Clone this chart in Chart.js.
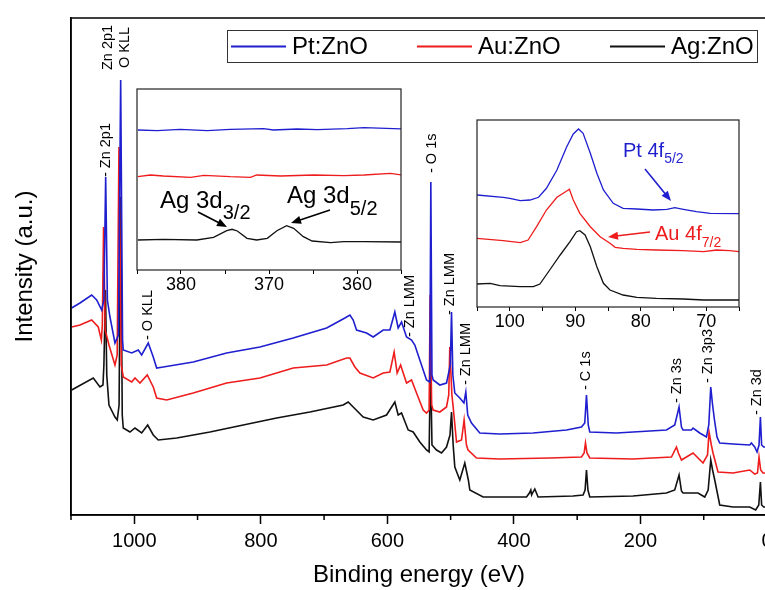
<!DOCTYPE html>
<html>
<head>
<meta charset="utf-8">
<script src="https://cdn.jsdelivr.net/npm/chart.js@4.4.1/dist/chart.umd.min.js"></script>
<style>
  html, body { margin: 0; padding: 0; background: #fff; overflow: hidden; }
  #wrap { position: relative; width: 765px; height: 590px; overflow: hidden; }
  #main { position: absolute; left: 0; top: 0; }
  #inset1 { position: absolute; left: 117px; top: 80px; }
  #inset2 { position: absolute; left: 457px; top: 110px; }
</style>
</head>
<body>
<div id="wrap">
  <canvas id="main" width="790" height="590"></canvas>
  <canvas id="inset1" width="305" height="220"></canvas>
  <canvas id="inset2" width="305" height="225"></canvas>
</div>
<script>
// ------- Data (survey spectra, binding energy in eV / intensity in a.u.) -------
const seriesNames = ['Pt:ZnO', 'Au:ZnO', 'Ag:ZnO'];
const seriesColors = ['#1f1fd0', '#ee1c1c', '#111111'];

const ptEnergy = [1099,1085.8,1067.3,1059.4,1051.5,1048,1045.2,1042.5,1038.4,1030.5,1025,1021.5,1018.5,1017.4,1004.1,993.7,988.3,977.9,970,964.6,954.2,906.8,854,801.4,748.8,696,667.1,659.2,654,648.7,632.9,622.4,606.6,596,588.2,582.9,577.6,569.7,561.8,556.6,548.7,538.1,532.9,531.3,529.5,527.6,517.1,506.5,500.5,498.6,496.5,493.4,485.5,479,476,473,467,453.9,422.3,369.7,316.9,293.2,288,285.3,282.5,280.1,237.9,158.9,145.8,139,135.2,132.7,119.4,116.9,106.3,95.7,92,88.9,86,83,79,74.7,53.7,27.3,24.7,19.4,15.8,12.6,10.4,8.5,5.2,0];
const ptCounts = [207,212,220,215,205,215,338,215,198,172,180,435,175,165,162,165,160,172,158,147,148,153,162,168,177,187,197,200,195,185,182,178,185,185,203,187,193,178,175,170,155,135,133,333,140,135,130,132,150,203,140,122,117,112,123,100,92,82,81,82,85,88,92,120,90,83,82,85,90,108,88,85,85,87,82,78,90,128,110,95,78,72,71,70,72,68,63,70,98,70,68,68];

const auEnergy = [1099,1085.8,1067.3,1056.9,1052,1050.5,1048.5,1046,1040,1030.5,1027,1024.2,1020.5,1017.4,1004.1,998.9,991,979.5,970,964.6,948.8,906.8,854,801.4,748.8,696,664.5,659.2,651.3,643.4,622.4,606.6,596,589.3,584.5,579.1,569.7,561.8,553.9,543.4,538.1,534,532.4,530,527.6,517.1,506.5,503,501.3,498,496,490.7,482.8,478.7,475,472.4,459.1,422.3,343.3,293.2,289,286.9,284.5,280.1,211.7,151,143.1,140,135.2,116.9,101.1,94,91.6,88,85.3,77.4,53.7,27.3,19.4,15,12.6,10,6.3,0];
const auCounts = [188,190,195,188,175,190,288,185,170,150,160,368,150,138,133,137,132,140,128,117,115,122,132,137,147,150,157,157,148,142,137,142,143,163,142,150,132,135,122,105,102,105,220,110,105,103,108,120,168,120,108,73,75,95,70,65,57,56,57,58,62,72,62,57,56,58,68,62,55,62,52,60,83,70,62,43,42,45,41,42,58,45,42,42];

const agEnergy = [1099,1064.8,1054.2,1049.5,1048,1045.5,1043.5,1040,1030.5,1026.9,1024,1021.5,1019,1017.4,1006.8,998.9,988.3,978.8,970,962.1,933,880.4,827.8,775,722.4,669.8,661.9,654,638.2,622.4,601.3,588.2,582.9,577.6,567.1,559.2,548.7,538.1,534,531.8,529.5,522.3,514.4,506.5,501,498.6,496,493.4,485.5,477.6,472,469.7,448.7,380.1,375.5,373.3,372,369.7,367,361.8,306.5,290.7,287.5,285.3,283,280.1,211.7,158.9,145.8,139,135.2,132.7,109,98.4,93,88.9,86,82.6,74.7,53.7,27.3,17.9,13,10.4,8.5,5.2,0];
const agCounts = [125,137,128,130,150,225,140,110,98,95,110,318,100,87,83,87,82,90,80,75,77,83,90,97,103,110,113,108,98,95,100,113,100,102,85,83,73,65,63,157,70,65,62,68,80,103,70,48,35,52,35,25,18,18,22,25,20,23,26,18,19,20,25,45,25,18,19,22,25,40,24,22,22,18,25,55,45,35,10,8,8,5,10,33,10,8,8];

// inset: Ag 3d region
const agInsetPtEnergy = [384.9,382.7,380.1,377.0,374.4,370.6,369.5,366.8,364.5,361.1,359.2,354.9];
const agInsetPtCounts = [140,139.3,140.7,139.3,140.7,141.3,140,141,140.3,141.3,142.3,141];
const agInsetAuEnergy = [384.9,383.5,382.0,378.9,377.4,374.4,372.1,371.4,368.7,364.9,361.5,359.2,356.2,354.9];
const agInsetAuCounts = [93.3,95,94,92.7,94.7,93.3,92.7,95,94,95,94.3,95,96.7,95];
const agInsetAgEnergy = [384.9,382.0,378.2,376.3,374.8,374.2,373.6,372.5,371.4,370.2,369.1,368.0,367.2,366.1,365.1,363.0,361.5,359.2,354.9];
const agInsetAgCounts = [30,30.7,30,32.7,39.3,40.7,39,31.7,30,31.7,39.3,44.3,41.7,33.3,29,27.3,28.3,28.3,28];

// inset: Pt 4f / Au 4f region
const fInsetPtEnergy = [105,101,100,98.4,96.9,95.6,94.4,92.8,91.3,90.3,89.5,88.8,87.7,86.7,85.7,84.2,82.7,80.6,78.1,76,74.8,73.5,71.5,69.4,65];
const fInsetPtCounts = [112,109.7,108.7,106.3,107,109.7,118.7,137,160.3,173,178,173.7,153.7,133.7,117,103.7,98.7,98,97,97.7,99.3,97.7,95.3,93.7,93.3];
const fInsetAuEnergy = [105,101,98.4,97.2,95.9,94.4,92.8,91.3,90.9,90.3,89.3,87.7,86.2,84.7,83.9,82.7,80.6,77.6,73.5,70.4,68.4,66.4,65];
const fInsetAuCounts = [68.7,66.3,64.3,67,80.3,97,109.7,116,117.7,107,93.7,80.3,70.3,63.7,59.7,58.7,57.7,57,56.3,55.3,57,56.3,55.3];
const fInsetAgEnergy = [105,103,101.5,98.4,96.4,95.4,93.9,92.3,90.8,89.8,89.3,88.5,87.7,86.7,85.7,84.7,82.7,80.6,77.6,73.5,70.4,65];
const fInsetAgCounts = [23,23.7,21.3,20.3,20.3,23,37,52,65.3,75.3,76.3,72,60.3,40.3,23.7,17,12,9.7,8.7,8,7,7];

// tick values
const xMajorTicks = [0, 200, 400, 600, 800, 1000];
const xMinorTicks = [100, 300, 500, 700, 900, 1100];

// peak assignments on the survey
const peakLabelText = ['Zn 2p1', 'O KLL', '- Zn 2p1', '- O KLL', '- Zn LMM', '- O 1s', '- Zn LMM', '- Zn LMM', '- C 1s', '- Zn 3s', '- Zn 3p3', '- Zn 3d'];
const peakLabelEnergy = [1041.5, 1014.7, 1044.7, 978.4, 564.4, 529.7, 501.3, 476, 286.4, 142.6, 93.7, 16.3];

// ------- Helpers -------
const FONT = '"Liberation Sans", Arial, Helvetica, sans-serif';
Chart.defaults.font.family = FONT;
Chart.defaults.color = '#000';

function toPoints(xs, ys) {
  return xs.map((x, i) => ({ x: x, y: ys[i] }));
}

function lineSet(label, xs, ys, color, width) {
  return {
    label: label,
    data: toPoints(xs, ys),
    borderColor: color,
    backgroundColor: color,
    borderWidth: width,
    pointRadius: 0,
    tension: 0,
    fill: false
  };
}

function drawArrow(ctx, x1, y1, x2, y2, color) {
  const ang = Math.atan2(y2 - y1, x2 - x1);
  const head = 10;
  ctx.save();
  ctx.strokeStyle = color;
  ctx.fillStyle = color;
  ctx.lineWidth = 1.6;
  ctx.beginPath();
  ctx.moveTo(x1, y1);
  ctx.lineTo(x2 - Math.cos(ang) * head * 0.8, y2 - Math.sin(ang) * head * 0.8);
  ctx.stroke();
  ctx.beginPath();
  ctx.moveTo(x2, y2);
  ctx.lineTo(x2 - head * Math.cos(ang) + 4 * Math.sin(ang), y2 - head * Math.sin(ang) - 4 * Math.cos(ang));
  ctx.lineTo(x2 - head * Math.cos(ang) - 4 * Math.sin(ang), y2 - head * Math.sin(ang) + 4 * Math.cos(ang));
  ctx.closePath();
  ctx.fill();
  ctx.restore();
}

function drawSubText(ctx, main, sub, x, y, size, subSize, drop, color) {
  ctx.save();
  ctx.fillStyle = color;
  ctx.textBaseline = 'alphabetic';
  ctx.textAlign = 'left';
  ctx.font = size + 'px ' + FONT;
  ctx.fillText(main, x, y);
  const w = ctx.measureText(main).width;
  ctx.font = subSize + 'px ' + FONT;
  ctx.fillText(sub, x + w, y + drop);
  ctx.restore();
}

// ------- Main survey chart -------
const labelBottoms = [70, 68, 177, 340, 337, 173, 315, 385, 390, 403, 383, 415];

const surveyDecor = {
  id: 'surveyDecor',
  afterDraw(chart) {
    const ctx = chart.ctx;
    const a = chart.chartArea;
    const xs = chart.scales.x;
    ctx.save();
    // frame
    ctx.strokeStyle = '#000';
    ctx.lineWidth = 1.5;
    ctx.strokeRect(a.left, a.top, a.right - a.left, a.bottom - a.top);
    // minor ticks
    ctx.beginPath();
    xMinorTicks.forEach(v => {
      const px = xs.getPixelForValue(v);
      ctx.moveTo(px, a.bottom);
      ctx.lineTo(px, a.bottom + 5);
    });
    ctx.stroke();
    // peak labels, rotated
    ctx.fillStyle = '#000';
    ctx.font = '14.5px ' + FONT;
    ctx.textBaseline = 'middle';
    ctx.textAlign = 'left';
    peakLabelText.forEach((t, i) => {
      const px = xs.getPixelForValue(peakLabelEnergy[i]);
      ctx.save();
      ctx.translate(px, labelBottoms[i]);
      ctx.rotate(-Math.PI / 2);
      ctx.fillText(t, 0, 0);
      ctx.restore();
    });
    // legend box
    ctx.lineWidth = 1;
    ctx.strokeStyle = '#333';
    ctx.strokeRect(227.5, 30.5, 530, 32);
    const lineX = [231, 417, 610];
    ctx.font = '24px ' + FONT;
    ctx.textBaseline = 'middle';
    seriesNames.forEach((n, i) => {
      ctx.strokeStyle = seriesColors[i];
      ctx.lineWidth = 2;
      ctx.beginPath();
      ctx.moveTo(lineX[i], 46.5);
      ctx.lineTo(lineX[i] + 55, 46.5);
      ctx.stroke();
      ctx.fillStyle = '#000';
      ctx.fillText(n, lineX[i] + 61, 47);
    });
    ctx.restore();
  }
};

new Chart(document.getElementById('main'), {
  type: 'line',
  data: {
    datasets: [
      lineSet(seriesNames[0], ptEnergy, ptCounts, seriesColors[0], 1.6),
      lineSet(seriesNames[1], auEnergy, auCounts, seriesColors[1], 1.6),
      lineSet(seriesNames[2], agEnergy, agCounts, seriesColors[2], 1.6)
    ]
  },
  options: {
    responsive: false,
    animation: false,
    layout: { padding: { left: 0, right: 23, top: 18, bottom: 0 } },
    plugins: { legend: { display: false }, tooltip: { enabled: false } },
    scales: {
      x: {
        type: 'linear',
        reverse: true,
        min: 0,
        max: 1100,
        afterFit: s => { s.height = 75; },
        afterBuildTicks: s => { s.ticks = xMajorTicks.map(v => ({ value: v })); },
        ticks: { font: { size: 20 }, color: '#000', padding: 5, maxRotation: 0, includeBounds: false, callback: v => String(v) },
        grid: { drawOnChartArea: false, tickLength: 9, color: '#000', tickWidth: 1.5 },
        border: { color: '#000', width: 1.5 },
        title: { display: true, text: 'Binding energy (eV)', font: { size: 24 }, color: '#000', padding: { top: 0, bottom: 0 } }
      },
      y: {
        min: 0,
        max: 497,
        afterFit: s => { s.width = 71; },
        ticks: { display: false },
        grid: { display: false },
        border: { color: '#000', width: 1.5 },
        title: { display: true, text: 'Intensity (a.u.)', font: { size: 24 }, color: '#000', padding: { top: 11, bottom: 0 } }
      }
    }
  },
  plugins: [surveyDecor]
});

// ------- Insets -------
function insetChart(id, sets, xmin, xmax, ymax, pad, axisH, tickLen, decorate) {
  return new Chart(document.getElementById(id), {
    type: 'line',
    data: { datasets: sets },
    options: {
      responsive: false,
      animation: false,
      layout: { padding: pad },
      plugins: { legend: { display: false }, tooltip: { enabled: false } },
      scales: {
        x: {
          type: 'linear',
          reverse: true,
          min: xmin,
          max: xmax,
          afterFit: s => { s.height = axisH; },
          ticks: {
            stepSize: 5,
            includeBounds: false,
            font: { size: 18 },
            color: '#000',
            padding: 0,
            maxRotation: 0,
            autoSkip: false,
            callback: v => (v % 10 === 0 ? String(v) : '')
          },
          grid: { drawOnChartArea: false, tickLength: tickLen, color: '#000', tickWidth: 1 },
          border: { display: false }
        },
        y: { display: false, min: 0, max: ymax }
      }
    },
    plugins: [{
      id: 'insetDecor',
      afterDraw(chart) {
        const ctx = chart.ctx;
        const a = chart.chartArea;
        ctx.save();
        ctx.strokeStyle = '#222';
        ctx.lineWidth = 1.2;
        ctx.strokeRect(a.left, a.top, a.right - a.left, a.bottom - a.top);
        ctx.restore();
        decorate(ctx);
      }
    }]
  });
}

insetChart('inset1', [
  lineSet(seriesNames[0], agInsetPtEnergy, agInsetPtCounts, seriesColors[0], 1.3),
  lineSet(seriesNames[1], agInsetAuEnergy, agInsetAuCounts, seriesColors[1], 1.3),
  lineSet(seriesNames[2], agInsetAgEnergy, agInsetAgCounts, seriesColors[2], 1.3)
], 355, 385, 181, { left: 20, right: 21, top: 9, bottom: 0 }, 30, 4, ctx => {
  drawSubText(ctx, 'Ag 3d', '3/2', 43, 128, 24, 20, 11, '#000');
  drawSubText(ctx, 'Ag 3d', '5/2', 170, 123, 24, 20, 12, '#000');
  drawArrow(ctx, 81, 132, 110, 147, '#000');
  drawArrow(ctx, 213, 130, 174, 143, '#000');
});

insetChart('inset2', [
  lineSet(seriesNames[0], fInsetPtEnergy, fInsetPtCounts, seriesColors[0], 1.3),
  lineSet(seriesNames[1], fInsetAuEnergy, fInsetAuCounts, seriesColors[1], 1.3),
  lineSet(seriesNames[2], fInsetAgEnergy, fInsetAgCounts, seriesColors[2], 1.3)
], 65, 105, 187, { left: 20, right: 23, top: 10, bottom: 0 }, 28, 4, ctx => {
  drawSubText(ctx, 'Pt 4f', '5/2', 166, 47, 20, 14, 6, seriesColors[0]);
  drawSubText(ctx, 'Au 4f', '7/2', 198, 130, 20, 14, 7, seriesColors[1]);
  drawArrow(ctx, 188, 59, 214, 91, seriesColors[0]);
  drawArrow(ctx, 193, 122, 151, 127, seriesColors[1]);
});
</script>
</body>
</html>
